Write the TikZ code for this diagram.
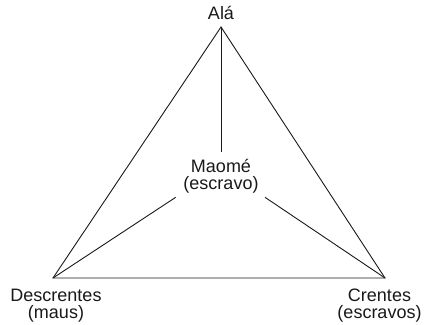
\documentclass[tikz,border=0pt]{standalone}
\usepackage{fontspec}
\setmainfont{Liberation Sans}
\begin{document}
\begin{tikzpicture}[x=1pt,y=1pt,
  lbl/.style={inner sep=0pt,align=center,font=\fontsize{18}{16.5}\selectfont,text=black!90},
  edge/.style={line width=0.9pt,black!90}]
\useasboundingbox (0,0) rectangle (425,324);
% vertices
\coordinate (apex) at (221,297);
\coordinate (bl) at (53,46);
\coordinate (br) at (385,46);
% labels
\node[lbl,anchor=base] (ala) at (221,304) {Alá};
\node[lbl] (desc) at (56,18.4) {Descrentes\\(maus)};
\node[lbl] (cren) at (379.5,18.4) {Crentes\\(escravos)};
\node[lbl] (mao) at (221,147.7) {Maomé\\(escravo)};
% ends of the lines near Maomé
\coordinate (mtop) at (221,172);
\coordinate (mleft) at (175.7,126.7);
\coordinate (mright) at (265,126.7);
% triangle
\draw[edge,line join=miter] (apex) -- (bl) -- (br) -- cycle;
% inner lines
\draw[edge] (apex) -- (mtop);
\draw[edge] (bl) -- (mleft);
\draw[edge] (br) -- (mright);
\end{tikzpicture}
\end{document}
